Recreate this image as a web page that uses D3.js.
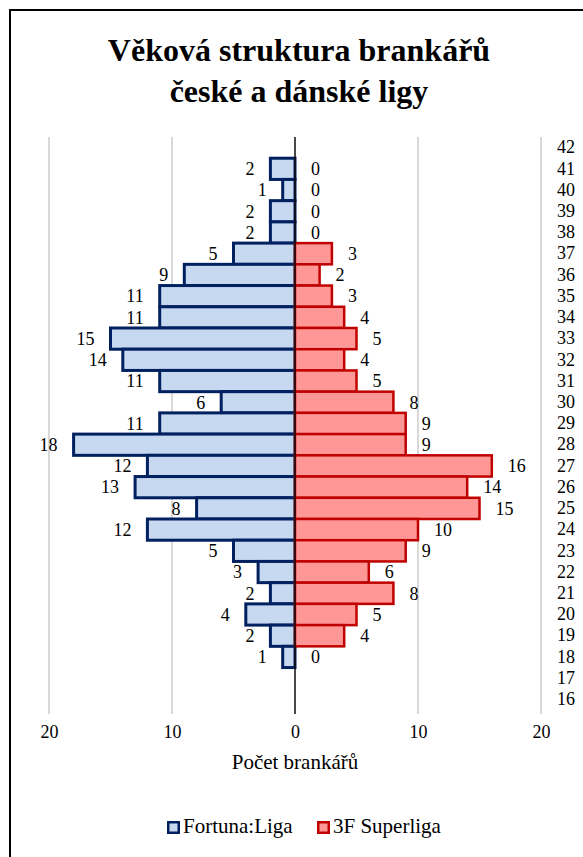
<!DOCTYPE html>
<html>
<head>
<meta charset="utf-8">
<script src="https://cdn.jsdelivr.net/npm/d3@7"></script>
<style>
  html, body { margin: 0; padding: 0; background: #fff; }
  svg { display: block; }
</style>
</head>
<body>
<svg id="chart" width="583" height="857"></svg>
<script>
// Věk brankářů (osa kategorií, shora dolů)
const ages = [42, 41, 40, 39, 38, 37, 36, 35, 34, 33, 32, 31, 30, 29, 28, 27, 26, 25, 24, 23, 22, 21, 20, 19, 18, 17, 16];
// Fortuna:Liga – počet brankářů v daném věku (null = bez popisku)
const fortunaLiga = [null, 2, 1, 2, 2, 5, 9, 11, 11, 15, 14, 11, 6, 11, 18, 12, 13, 8, 12, 5, 3, 2, 4, 2, 1, null, null];
// 3F Superliga – počet brankářů v daném věku
const superliga = [null, 0, 0, 0, 0, 3, 2, 3, 4, 5, 4, 5, 8, 9, 9, 16, 14, 15, 10, 9, 6, 8, 5, 4, 0, null, null];
const xTicks = [-20, -10, 0, 10, 20];
const seriesNames = ["Fortuna:Liga", "3F Superliga"];
const titleLines = ["Věková struktura brankářů", "české a dánské ligy"];
const axisTitle = "Počet brankářů";

const FONT = "'Liberation Serif', 'Times New Roman', serif";
const svg = d3.select("#chart");

// rámeček grafu
svg.append("rect")
  .attr("x", 10).attr("y", 10).attr("width", 590).attr("height", 870)
  .attr("fill", "none").attr("stroke", "#000").attr("stroke-width", 2);

// titulek
svg.selectAll("text.title").data(titleLines).enter().append("text")
  .attr("class", "title")
  .attr("x", 299).attr("y", (d, i) => 61 + i * 41)
  .attr("text-anchor", "middle")
  .style("font-family", FONT).style("font-size", "32px").style("font-weight", "bold")
  .text(d => d);

const x = d3.scaleLinear().domain([-20, 20]).range([49, 541]);
const y = d3.scaleBand().domain(ages).range([137, 710]).paddingInner(0).paddingOuter(0);

// svislá mřížka
svg.append("g").selectAll("line").data(xTicks.filter(t => t !== 0)).enter().append("line")
  .attr("x1", d => x(d)).attr("x2", d => x(d))
  .attr("y1", 137).attr("y2", 714)
  .attr("stroke", "#d9d9d9").attr("stroke-width", 2);

// osa x (popisky absolutních hodnot)
const xAxis = d3.axisBottom(x).tickValues(xTicks).tickSize(0).tickFormat(d => Math.abs(d));
const gx = svg.append("g").attr("transform", "translate(0,738)").call(xAxis);
gx.select(".domain").remove();
gx.selectAll("text").style("font-family", FONT).style("font-size", "18px")
  .attr("fill", "#000").attr("y", 0).attr("dy", 0);

// popisek osy x
svg.append("text")
  .attr("x", x(0)).attr("y", 769)
  .attr("text-anchor", "middle").style("font-family", FONT).style("font-size", "21px")
  .text(axisTitle);

// osa věku vpravo
const yAxis = d3.axisRight(y).tickSize(0).tickPadding(0);
const gy = svg.append("g").attr("transform", "translate(557,0)").call(yAxis);
gy.select(".domain").remove();
gy.selectAll("text").style("font-family", FONT).style("font-size", "18px").attr("fill", "#000");

const leftRows = ages.map((a, i) => ({ age: a, v: fortunaLiga[i] })).filter(d => d.v !== null);
const rightRows = ages.map((a, i) => ({ age: a, v: superliga[i] })).filter(d => d.v !== null);

// sloupce Fortuna:Liga (vlevo)
svg.append("g").selectAll("rect").data(leftRows.filter(d => d.v > 0)).enter().append("rect")
  .attr("x", d => x(-d.v)).attr("y", d => y(d.age))
  .attr("width", d => x(0) - x(-d.v)).attr("height", y.bandwidth())
  .attr("fill", "#c6d9f0").attr("stroke", "#002060").attr("stroke-width", 3);

// sloupce 3F Superliga (vpravo)
svg.append("g").selectAll("rect").data(rightRows.filter(d => d.v > 0)).enter().append("rect")
  .attr("x", x(0)).attr("y", d => y(d.age))
  .attr("width", d => x(d.v) - x(0)).attr("height", y.bandwidth())
  .attr("fill", "#ff9797").attr("stroke", "#c00000").attr("stroke-width", 2.5);

// nulová osa
svg.append("line")
  .attr("x1", x(0)).attr("x2", x(0)).attr("y1", 137).attr("y2", 714)
  .attr("stroke", "#0d0d0d").attr("stroke-width", 1.5);

// popisky hodnot
svg.append("g").selectAll("text").data(leftRows).enter().append("text")
  .attr("x", d => x(-d.v) - 16).attr("y", d => y(d.age) + y.bandwidth() / 2)
  .attr("dy", "0.35em").attr("text-anchor", "end")
  .style("font-family", FONT).style("font-size", "18px")
  .text(d => d.v);
svg.append("g").selectAll("text").data(rightRows).enter().append("text")
  .attr("x", d => x(d.v) + 16).attr("y", d => y(d.age) + y.bandwidth() / 2)
  .attr("dy", "0.35em").attr("text-anchor", "start")
  .style("font-family", FONT).style("font-size", "18px")
  .text(d => d.v);

// legenda
const legend = [
  { name: seriesNames[0], fill: "#c6d9f0", stroke: "#002060", sx: 167, tx: 183 },
  { name: seriesNames[1], fill: "#ff9797", stroke: "#c00000", sx: 317, tx: 333 }
];
const lg = svg.append("g").selectAll("g").data(legend).enter().append("g");
lg.append("rect")
  .attr("x", d => d.sx + 1.25).attr("y", 822.25).attr("width", 10.5).attr("height", 10.5)
  .attr("fill", d => d.fill).attr("stroke", d => d.stroke).attr("stroke-width", 2.5);
lg.append("text")
  .attr("x", d => d.tx).attr("y", 833)
  .style("font-family", FONT).style("font-size", "21px")
  .text(d => d.name);
</script>
</body>
</html>
